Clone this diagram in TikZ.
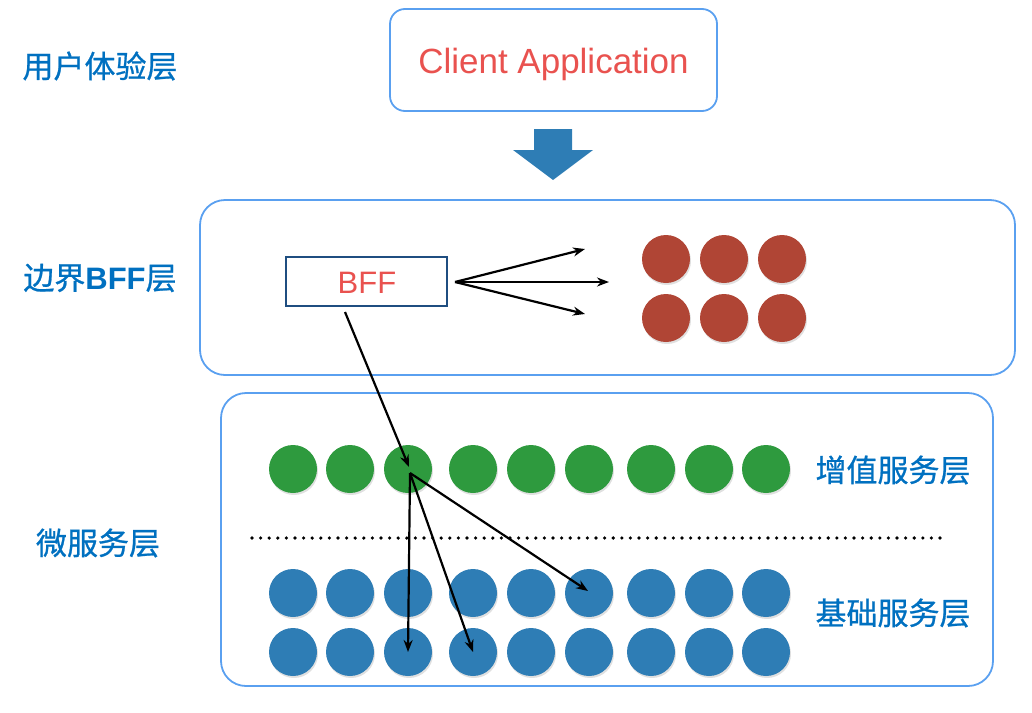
\documentclass[tikz,border=0pt]{standalone}
\usepackage{fontspec}
\setmainfont{Liberation Sans}
\newfontfamily\cjk{Noto Sans CJK SC}[FakeBold=0.8]
\usetikzlibrary{arrows.meta}
\definecolor{lblue}{HTML}{5AA0F0}
\definecolor{dblue}{HTML}{1F4E80}
\definecolor{txtblue}{HTML}{0070C0}
\definecolor{redtxt}{HTML}{E9524F}
\definecolor{cgreen}{HTML}{2E9A3E}
\definecolor{cblue}{HTML}{2E7DB5}
\definecolor{cred}{HTML}{B04535}
\tikzset{
  layerbox/.style={draw=lblue, line width=1.8pt, rounded corners=25pt},
  laylabel/.style={text=txtblue, font=\cjk\fontsize{31}{36}\selectfont, inner sep=0pt},
  dot/.style={circle, minimum size=48pt, inner sep=0pt, draw=none, fill=#1},
  shadowdot/.style={circle, minimum size=48pt, inner sep=0pt, fill=black, opacity=0.12},
  conn/.style={line width=2.2pt, -{Stealth[length=12pt,width=9pt]}},
}
\begin{document}
\begin{tikzpicture}[x=1pt,y=-1pt]
\useasboundingbox (0,0) rectangle (1032,712);
% layer boxes
\draw[layerbox] (200,200) rectangle (1015,375);
\draw[layerbox] (221,393) rectangle (993,686);
\node[draw=lblue, line width=1.8pt, rounded corners=15pt, minimum width=327pt, minimum height=102pt] (client) at (553.5,60) {};
\node[text=redtxt, font=\fontsize{35}{40}\selectfont, inner sep=0pt] (clienttxt) at (553.5,64) {Client Application};
% big arrow
\fill[cblue] (534,129) -- (572,129) -- (572,150) -- (593,150) -- (553,180) -- (513,150) -- (534,150) -- cycle;
% labels
\node[laylabel] (l1) at (100,66) {用户体验层};
\node[laylabel] (l2) at (100,278) {边界{\fontspec{Liberation Sans}\bfseries BFF}层};
\node[laylabel] (l3) at (98,543) {微服务层};
\node[laylabel] (l4) at (893,470) {增值服务层};
\node[laylabel] (l5) at (893,613) {基础服务层};
% BFF box
\node[draw=dblue, line width=1.8pt, minimum width=161pt, minimum height=49pt, inner sep=0pt] (bff) at (366.5,281.5) {};
\node[text=redtxt, font=\fontsize{31}{36}\selectfont, inner sep=0pt] (bfftxt) at (367,283) {BFF};
% red circles
\foreach \x [count=\i] in {666,724,782}{
  \foreach \y [count=\j] in {259,318}{
    \node[shadowdot] at (\x+1,\y+2) {};
    \node[dot=cred] (r\j\i) at (\x,\y) {};
  }
}
% green and blue circles
\foreach \x [count=\i] in {293,350,408,473,531,589,651,709,766}{
  \node[shadowdot] at (\x+1,471) {};
  \node[dot=cgreen] (g\i) at (\x,469) {};
  \node[shadowdot] at (\x+1,595) {};
  \node[dot=cblue] (b1\i) at (\x,593) {};
  \node[shadowdot] at (\x+1,654) {};
  \node[dot=cblue] (b2\i) at (\x,652) {};
}
% dotted separator
\draw[line width=3.6pt, dash pattern=on 0pt off 8.6pt, line cap=round] (252,538) coordinate (ds) -- (948,538) coordinate (de);
% arrows from BFF
\coordinate (bo) at (455,282);
\coordinate (t1) at (585,249);
\coordinate (t2) at (609,282);
\coordinate (t3) at (585,314);
\draw[conn] (bo) -- (t1);
\draw[conn] (bo) -- (t2);
\draw[conn] (bo) -- (t3);
\coordinate (bs) at (345,312);
\coordinate (ge) at (409,467);
\draw[conn] (bs) -- (ge);
\coordinate (gs) at (410,473);
\coordinate (e1) at (408,652);
\coordinate (e2) at (473,652);
\coordinate (e3) at (588,591);
\draw[conn] (gs) -- (e1);
\draw[conn] (gs) -- (e2);
\draw[conn] (gs) -- (e3);
\end{tikzpicture}
\end{document}
